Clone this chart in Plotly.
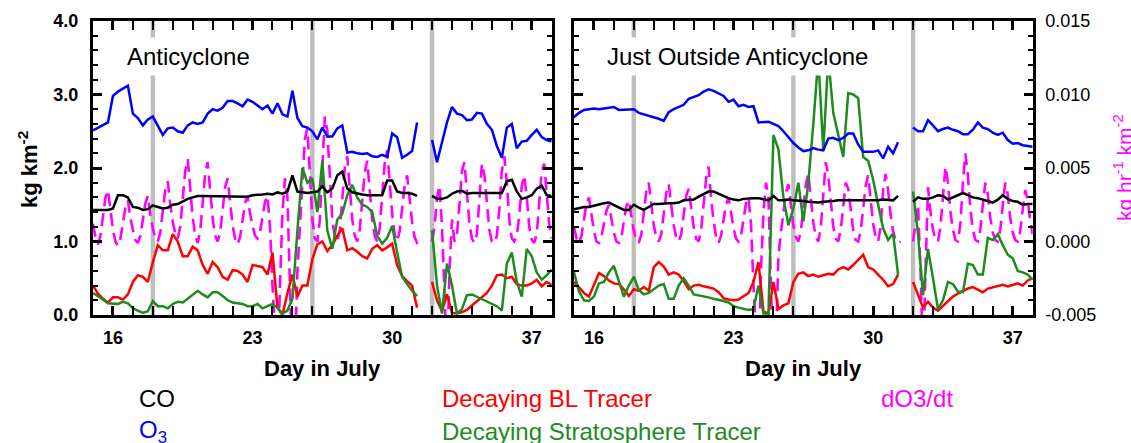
import numpy as np
import plotly.graph_objects as go

# ---------------------------------------------------------------
# Time axes (day in July): 6-hourly tracers, 3-hourly ozone tendency
# ---------------------------------------------------------------
days_6h = np.arange(15.0, 38.0001, 0.25)
days_3h = np.arange(15.0, 38.0001, 0.125)
event_days = [18, 26, 32]

# ---------------- Anticyclone (kg km^-2) ----------------
o3_in = [2.51, 2.55, 2.58, 2.62, 2.98, 3.04, 3.08, 3.12,
         2.74, 2.68, 2.58, 2.66, 2.70, 2.58, 2.45, 2.54,
         2.55, 2.50, 2.48, 2.58, 2.62, 2.60, 2.62, 2.74,
         2.80, 2.78, 2.82, 2.91, 2.91, 2.88, 2.84, 2.93,
         2.90, 2.85, 2.80, 2.85, 2.74, 2.88, 2.73, 2.70,
         3.05, 2.68, 2.57, 2.55, 2.50, 2.39, 2.55, 2.43,
         2.43, 2.54, 2.58, 2.21, 2.22, 2.20, 2.19, 2.20,
         2.16, 2.15, 2.18, 2.15, 2.47, 2.42, 2.14, 2.18,
         2.23, 2.62, None, None, 2.38, 2.08, 2.35, 2.62,
         2.83, 2.74, 2.72, 2.65, 2.66, 2.75, 2.74, 2.60,
         2.52, 2.30, 2.14, 2.55, 2.60, 2.27, 2.36, 2.37,
         2.45, 2.52, 2.42, 2.38, 2.36]
co_in = [1.43, 1.43, 1.43, 1.43, 1.45, 1.63, 1.63, 1.60,
         1.47, 1.46, 1.43, 1.44, 1.49, 1.47, 1.45, 1.46,
         1.50, 1.51, 1.55, 1.58, 1.60, 1.62, 1.62, 1.62,
         1.62, 1.61, 1.61, 1.62, 1.61, 1.61, 1.62, 1.61,
         1.63, 1.63, 1.64, 1.65, 1.64, 1.67, 1.65, 1.68,
         1.90, 1.68, 1.67, 1.66, 1.67, 1.68, 1.75, 1.67,
         1.72, 1.90, 1.95, 1.72, 1.67, 1.65, 1.64, 1.63,
         1.63, 1.63, 1.63, 1.83, 1.83, 1.68, 1.66, 1.66,
         1.65, 1.62, None, None, 1.62, 1.58, 1.58, 1.60,
         1.65, 1.68, 1.69, 1.65, 1.66, 1.66, 1.66, 1.66,
         1.66, 1.65, 1.66, 1.82, 1.84, 1.68, 1.58, 1.60,
         1.63, 1.72, 1.76, 1.63, 1.62]
bl_in = [0.40, 0.29, 0.22, 0.17, 0.24, 0.24, 0.21, 0.28,
         0.45, 0.54, 0.52, 0.45, 0.72, 0.95, 0.88, 0.88,
         1.10, 1.00, 0.80, 0.80, 0.93, 0.88, 0.68, 0.56,
         0.72, 0.65, 0.52, 0.48, 0.61, 0.60, 0.55, 0.45,
         0.68, 0.66, 0.65, 0.55, 0.85, 0.10, 0.00, 0.30,
         0.55, 0.25, 0.40, 0.40, 0.76, 0.96, 1.00, 0.87,
         0.95, 1.08, 1.18, 0.88, 0.91, 0.86, 0.80, 0.77,
         0.90, 0.95, 0.88, 0.92, 0.97, 0.68, 0.53, 0.46,
         0.40, 0.10, None, None, 0.45, 0.20, 0.05, 0.28,
         0.03, 0.02, 0.04, 0.07, 0.13, 0.19, 0.25, 0.30,
         0.40, 0.54, 0.55, 0.50, 0.52, 0.42, 0.40, 0.40,
         0.43, 0.48, 0.39, 0.45, 0.41]
strat_in = [0.30, 0.26, 0.21, 0.16, 0.15, 0.15, 0.18, 0.16,
            0.09, 0.06, 0.03, 0.05, 0.19, 0.12, 0.12, 0.09,
            0.15, 0.18, 0.17, 0.22, 0.28, 0.33, 0.28, 0.24,
            0.31, 0.31, 0.26, 0.20, 0.17, 0.16, 0.15, 0.12,
            0.12, 0.15, 0.09, 0.12, 0.15, 0.10, 0.02, 0.06,
            0.22, 1.15, 2.00, 1.80, 1.86, 1.40, 2.10, 1.15,
            0.90, 1.30, 1.38, 1.63, 1.77, 1.60, 1.50, 1.47,
            1.40, 1.08, 0.97, 1.05, 1.21, 0.85, 0.52, 0.42,
            0.33, 0.26, None, None, 1.15, 0.40, 0.02, 0.70,
            0.40, 0.02, 0.08, 0.27, 0.28, 0.25, 0.22, 0.19,
            0.15, 0.12, 0.06, 0.70, 0.85, 0.45, 0.25, 0.90,
            0.80, 0.58, 0.48, 0.54, 0.62]
# ozone tendency (kg hr^-1 km^-2), eight values per day
do3dt_in = [0.0012, 0.0003, -0.0002, 0.0004, 0.0017, 0.0030, 0.0035, 0.0020,
            0.0008, 0.0000, -0.0003, 0.0002, 0.0013, 0.0023, 0.0028, 0.0016,
            0.0008, 0.0001, -0.0001, 0.0004, 0.0015, 0.0026, 0.0031, 0.0018,
            0.0009, 0.0002, 0.0000, 0.0006, 0.0021, 0.0035, 0.0041, 0.0025,
            0.0014, 0.0005, 0.0002, 0.0010, 0.0029, 0.0048, 0.0056, 0.0033,
            0.0016, 0.0004, -0.0001, 0.0007, 0.0027, 0.0046, 0.0054, 0.0032,
            0.0016, 0.0004, 0.0000, 0.0006, 0.0022, 0.0037, 0.0043, 0.0025,
            0.0011, 0.0002, -0.0002, 0.0003, 0.0015, 0.0026, 0.0031, 0.0019,
            0.0011, 0.0004, 0.0002, 0.0006, 0.0017, 0.0027, 0.0031, 0.0010,
            -0.0030, -0.0080, -0.0090, -0.0030, 0.0020, 0.0043, 0.0030, -0.0030,
            -0.0090, -0.0080, -0.0020, 0.0010, 0.0045, 0.0070, 0.0077, 0.0045,
            0.0015, 0.0002, 0.0000, 0.0015, 0.0055, 0.0085, 0.0075, 0.0040,
            0.0015, 0.0003, 0.0000, 0.0008, 0.0029, 0.0050, 0.0058, 0.0035,
            0.0015, 0.0004, 0.0000, 0.0008, 0.0028, 0.0047, 0.0055, 0.0033,
            0.0015, 0.0004, 0.0000, 0.0009, 0.0031, 0.0053, 0.0062, 0.0037,
            0.0019, 0.0005, 0.0000, 0.0007, 0.0023, 0.0038, 0.0045, 0.0027,
            0.0013, 0.0003, -0.0001, 0.0000, None, None, None, None,
            0.0000, 0.0010, 0.0030, 0.0038, 0.0010, -0.0060, -0.0080, -0.0020,
            0.0015, 0.0000, 0.0005, 0.0025, 0.0048, 0.0054, 0.0035, 0.0012,
            0.0002, -0.0001, 0.0005, 0.0030, 0.0053, 0.0045, 0.0025, 0.0008,
            0.0000, -0.0001, 0.0004, 0.0022, 0.0048, 0.0058, 0.0040, 0.0015,
            0.0002, 0.0000, 0.0004, 0.0018, 0.0038, 0.0045, 0.0030, 0.0010,
            0.0001, -0.0001, 0.0005, 0.0025, 0.0048, 0.0053, 0.0035, 0.0012,
            0.0002]

# ---------------- Just outside the anticyclone ----------------
o3_out = [2.69, 2.75, 2.79, 2.80, 2.81, 2.80, 2.81, 2.82,
          2.83, 2.79, 2.79, 2.80, 2.80, 2.75, 2.73, 2.72,
          2.70, 2.67, 2.64, 2.76, 2.80, 2.83, 2.86, 2.94,
          2.96, 2.99, 3.04, 3.07, 3.05, 3.02, 2.98, 2.90,
          2.93, 2.84, 2.86, 2.83, 2.84, 2.62, 2.63, 2.63,
          2.60, 2.57, 2.50, 2.42, 2.34, 2.28, 2.23, 2.24,
          2.27, 2.25, 2.24, 2.40, 2.41, 2.38, 2.41, 2.47,
          2.47, 2.32, 2.22, 2.22, 2.22, 2.24, 2.13, 2.29,
          2.20, 2.35, None, None, 2.55, 2.50, 2.50, 2.65,
          2.58, 2.50, 2.53, 2.55, 2.52, 2.50, 2.46, 2.46,
          2.52, 2.62, 2.55, 2.53, 2.48, 2.45, 2.48, 2.38,
          2.33, 2.34, 2.31, 2.30, 2.29]
co_out = [1.44, 1.46, 1.47, 1.47, 1.49, 1.51, 1.52, 1.53,
          1.50, 1.47, 1.43, 1.43, 1.50, 1.46, 1.43, 1.47,
          1.51, 1.51, 1.52, 1.52, 1.52, 1.53, 1.56, 1.57,
          1.57, 1.61, 1.64, 1.68, 1.68, 1.65, 1.61, 1.59,
          1.57, 1.56, 1.58, 1.59, 1.59, 1.59, 1.58, 1.56,
          1.62, 1.56, 1.56, 1.57, 1.56, 1.56, 1.55, 1.54,
          1.53, 1.53, 1.54, 1.54, 1.55, 1.56, 1.56, 1.56,
          1.55, 1.55, 1.56, 1.56, 1.56, 1.56, 1.57, 1.57,
          1.56, 1.62, None, None, 1.54, 1.60, 1.58, 1.58,
          1.60, 1.63, 1.62, 1.57, 1.60, 1.63, 1.66, 1.63,
          1.60, 1.59, 1.57, 1.55, 1.53, 1.57, 1.63, 1.58,
          1.55, 1.54, 1.50, 1.51, 1.51]
bl_out = [0.45, 0.37, 0.30, 0.25, 0.42, 0.57, 0.53, 0.47,
          0.43, 0.42, 0.35, 0.26, 0.35, 0.33, 0.38, 0.33,
          0.65, 0.72, 0.66, 0.55, 0.58, 0.55, 0.46, 0.35,
          0.40, 0.41, 0.39, 0.37, 0.36, 0.31, 0.23, 0.21,
          0.20, 0.21, 0.25, 0.30, 0.45, 0.72, 0.05, 0.02,
          0.45, 0.08, 0.13, 0.16, 0.45, 0.56, 0.58, 0.53,
          0.55, 0.52, 0.54, 0.56, 0.55, 0.62, 0.65, 0.62,
          0.68, 0.75, 0.82, 0.65, 0.62, 0.55, 0.48, 0.39,
          0.42, 0.55, None, None, 0.45, 0.28, 0.10, 0.18,
          0.10, 0.06, 0.12, 0.18, 0.25, 0.29, 0.33, 0.36,
          0.38, 0.34, 0.31, 0.36, 0.38, 0.39, 0.41, 0.39,
          0.41, 0.43, 0.40, 0.47, 0.50]
strat_out = [0.58, 0.32, 0.20, 0.19, 0.25, 0.43, 0.45, 0.58,
             0.67, 0.45, 0.25, 0.40, 0.52, 0.34, 0.28, 0.30,
             0.35, 0.40, 0.42, 0.22, 0.22, 0.40, 0.50, 0.40,
             0.28, 0.27, 0.25, 0.24, 0.22, 0.21, 0.19, 0.17,
             0.12, 0.10, 0.08, 0.07, 0.08, 0.40, 0.02, 0.02,
             2.45, 2.25, 1.60, 1.22, 1.45, 1.80, 1.27, 1.80,
             2.60, 3.50, 2.24, 3.50, 2.75, 2.45, 2.15, 3.02,
             3.00, 2.95, 2.15, 2.10, 1.84, 1.50, 1.18, 1.02,
             1.11, 0.55, None, None, 1.68, 1.10, 0.27, 0.90,
             0.50, 0.08, 0.20, 0.45, 0.42, 0.32, 0.31, 0.70,
             0.68, 0.55, 0.55, 1.05, 1.02, 1.10, 0.95, 0.82,
             0.77, 0.60, 0.58, 0.55, 0.48]
do3dt_out = [0.0010, 0.0002, -0.0001, 0.0004, 0.0015, 0.0026, 0.0030, 0.0017,
             0.0007, 0.0000, -0.0001, 0.0003, 0.0012, 0.0021, 0.0025, 0.0014,
             0.0006, 0.0000, -0.0001, 0.0003, 0.0013, 0.0024, 0.0028, 0.0016,
             0.0007, 0.0001, -0.0001, 0.0005, 0.0019, 0.0034, 0.0040, 0.0023,
             0.0011, 0.0003, 0.0000, 0.0005, 0.0019, 0.0033, 0.0039, 0.0023,
             0.0011, 0.0003, 0.0000, 0.0005, 0.0018, 0.0031, 0.0036, 0.0021,
             0.0010, 0.0002, 0.0000, 0.0008, 0.0025, 0.0043, 0.0051, 0.0029,
             0.0014, 0.0003, -0.0001, 0.0004, 0.0015, 0.0025, 0.0030, 0.0018,
             0.0009, 0.0002, 0.0000, 0.0004, 0.0015, 0.0026, 0.0030, 0.0012,
             -0.0030, -0.0080, -0.0090, -0.0020, 0.0020, 0.0040, 0.0030, -0.0030,
             -0.0090, -0.0070, -0.0010, 0.0006, 0.0020, 0.0033, 0.0039, 0.0023,
             0.0011, 0.0003, 0.0000, 0.0007, 0.0023, 0.0039, 0.0046, 0.0027,
             0.0013, 0.0003, 0.0000, 0.0010, 0.0035, 0.0054, 0.0045, 0.0025,
             0.0010, 0.0002, 0.0000, 0.0008, 0.0025, 0.0040, 0.0036, 0.0020,
             0.0008, 0.0001, 0.0000, 0.0007, 0.0023, 0.0038, 0.0045, 0.0026,
             0.0012, 0.0003, 0.0000, 0.0010, 0.0035, 0.0046, 0.0035, 0.0018,
             0.0007, 0.0001, -0.0001, 0.0000, None, None, None, None,
             0.0000, 0.0012, 0.0025, -0.0020, -0.0080, -0.0020, 0.0037, 0.0020,
             0.0008, 0.0001, 0.0000, 0.0010, 0.0030, 0.0051, 0.0040, 0.0020,
             0.0008, 0.0001, 0.0000, 0.0012, 0.0040, 0.0060, 0.0045, 0.0022,
             0.0008, 0.0001, 0.0000, 0.0008, 0.0025, 0.0040, 0.0032, 0.0016,
             0.0006, 0.0001, 0.0000, 0.0008, 0.0025, 0.0040, 0.0032, 0.0016,
             0.0006, 0.0001, 0.0000, 0.0007, 0.0022, 0.0035, 0.0028, 0.0014,
             0.0005]

panel_titles = ["Anticyclone", "Just Outside Anticyclone"]
x_ticks = [16, 23, 30, 37]
rate_ticks = [-0.005, 0.0, 0.005, 0.010, 0.015]
rate_tick_labels = ["-0.005", "0.000", "0.005", "0.010", "0.015"]

# ---------------------------------------------------------------
W, H = 1131, 443
FONT = "Liberation Sans, Arial, Helvetica, sans-serif"
BLACK, BLUE, RED, GREEN, MAGENTA = "#000000", "#0000FF", "#FF0000", "#1E8B1E", "#FF00FF"


def px(x):
    return x / W


def py(y):
    return 1 - y / H


x_dom = [[px(93), px(551.7)], [px(574), px(1032.7)]]
y_dom = [py(315), py(21)]

fig = go.Figure()

panels = [
    dict(o3=o3_in, co=co_in, bl=bl_in, st=strat_in, dt=do3dt_in, xa="x", ya_dt="y", ya_kg="y3"),
    dict(o3=o3_out, co=co_out, bl=bl_out, st=strat_out, dt=do3dt_out, xa="x2", ya_dt="y2", ya_kg="y4"),
]

for p in panels:
    # tendency on the right-hand scale (drawn underneath the mass series)
    fig.add_trace(go.Scatter(x=days_3h, y=p["dt"], xaxis=p["xa"], yaxis=p["ya_dt"], mode="lines",
                             line=dict(color=MAGENTA, width=2.6, dash="13px,7px"),
                             connectgaps=False, showlegend=False, hoverinfo="skip"))
    for key, col in (("bl", RED), ("st", GREEN), ("co", BLACK), ("o3", BLUE)):
        fig.add_trace(go.Scatter(x=days_6h, y=p[key], xaxis=p["xa"], yaxis=p["ya_kg"], mode="lines",
                                 line=dict(color=col, width=2.5), connectgaps=False,
                                 showlegend=False, hoverinfo="skip"))

tickfont_b = dict(family=FONT, size=18, color="black", weight="bold")
xcommon = dict(range=[15, 38], tickmode="array", tickvals=x_ticks, ticks="inside", ticklen=9,
               tickwidth=2.5, tickcolor="black", showline=True, linewidth=3, linecolor="black",
               mirror="allticks", showgrid=False, zeroline=False, tickfont=tickfont_b,
               automargin=False, ticklabelstandoff=4,
               minor=dict(ticks="inside", dtick=1, tick0=15, ticklen=5, tickwidth=2, tickcolor="black"))
kgcommon = dict(range=[0, 4], ticks="inside", ticklen=9, tickwidth=2.5, tickcolor="black",
                dtick=1, tick0=0, tickformat=".1f", showline=True, linewidth=3, linecolor="black",
                mirror="allticks", showgrid=False, zeroline=False, tickfont=tickfont_b,
                automargin=False,
                minor=dict(ticks="inside", dtick=0.2, ticklen=5, tickwidth=2, tickcolor="black"))

fig.update_layout(
    width=W, height=H, margin=dict(l=0, r=0, t=0, b=0, pad=0, autoexpand=False),
    paper_bgcolor="white", plot_bgcolor="white",
    font=dict(family=FONT, color="black"),
    xaxis=dict(domain=x_dom[0], anchor="y", **xcommon),
    xaxis2=dict(domain=x_dom[1], anchor="y2", **xcommon),
    yaxis=dict(domain=y_dom, anchor="x", range=[-0.005, 0.015], visible=False, automargin=False),
    yaxis3=dict(overlaying="y", anchor="x", side="left", ticklabelstandoff=8, **kgcommon),
    yaxis2=dict(domain=y_dom, anchor="x2", side="right", range=[-0.005, 0.015],
                tickmode="array", tickvals=rate_ticks, ticktext=rate_tick_labels,
                ticks="inside", ticklen=9, tickwidth=2.5, tickcolor="black",
                showline=True, linewidth=3, linecolor="black", showgrid=False, zeroline=False,
                tickfont=dict(family=FONT, size=18, color="black"), ticklabelstandoff=6,
                automargin=False,
                minor=dict(ticks="inside", dtick=0.001, tick0=0, ticklen=5, tickwidth=2,
                           tickcolor="black")),
    yaxis4=dict(overlaying="y2", anchor="x2", side="left", showticklabels=False, **kgcommon),
)

# event markers
for xa, ya in (("x", "y3"), ("x2", "y4")):
    for d in event_days:
        fig.add_shape(type="rect", xref=xa, yref=ya, x0=d - 0.11, x1=d + 0.11, y0=0, y1=4,
                      fillcolor="#BEBEBE", line=dict(width=0), layer="below")

ann = []
# panel titles on white boxes
for title, xl in zip(panel_titles, [121, 601]):
    ann.append(dict(text=title, x=px(xl), y=py(57), xref="paper", yref="paper", xanchor="left",
                    yanchor="middle", showarrow=False, bgcolor="white", borderpad=5,
                    font=dict(family=FONT, size=24, color="black")))
# axis titles
for xc in (322, 803):
    ann.append(dict(text="Day in July", x=px(xc), y=py(368), xref="paper", yref="paper",
                    xanchor="center", yanchor="middle", showarrow=False,
                    font=dict(family=FONT, size=22, color="black", weight="bold")))
ann.append(dict(text="kg km<sup>-2</sup>", x=px(28), y=py(170), xref="paper", yref="paper",
                xanchor="center", yanchor="middle", textangle=-90, showarrow=False,
                font=dict(family=FONT, size=22, color="black", weight="bold")))
ann.append(dict(text="kg hr<sup>-1</sup> km<sup>-2</sup>", x=px(1123), y=py(168), xref="paper",
                yref="paper", xanchor="center", yanchor="middle", textangle=-90, showarrow=False,
                font=dict(family=FONT, size=21, color=MAGENTA)))
# legend text
legend_items = [("CO", BLACK, 137, 398), ("O<sub>3</sub>", BLUE, 137, 431),
                ("Decaying BL Tracer", RED, 440, 398),
                ("Decaying Stratosphere Tracer", GREEN, 440, 431),
                ("dO3/dt", MAGENTA, 879, 398)]
for txt, col, xl, yc in legend_items:
    ann.append(dict(text=txt, x=px(xl), y=py(yc), xref="paper", yref="paper", xanchor="left",
                    yanchor="middle", showarrow=False, font=dict(family=FONT, size=24, color=col)))
fig.update_layout(annotations=ann)

fig.write_html("out.html")
